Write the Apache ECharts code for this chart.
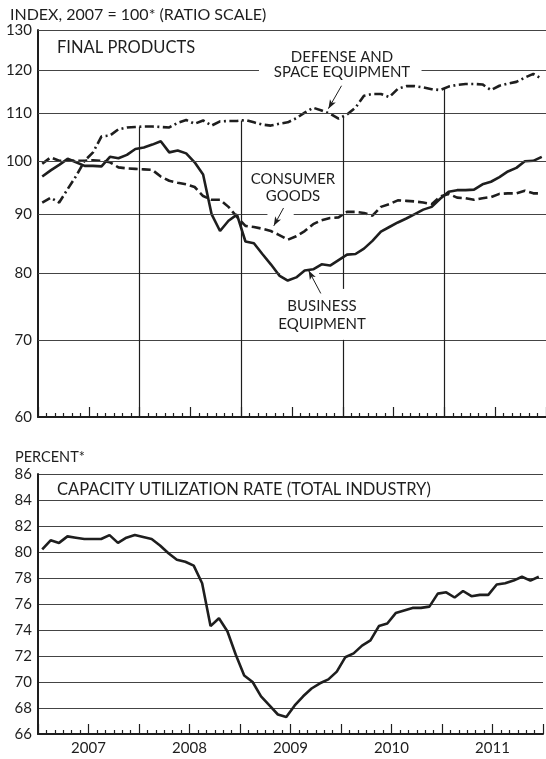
<!DOCTYPE html>
<html>
<head>
<meta charset="utf-8">
<script src="https://cdn.jsdelivr.net/npm/echarts@6/dist/echarts.min.js"></script>
<style>
  html, body { margin: 0; padding: 0; background: #fff; }
  #main { width: 546px; height: 759px; }
</style>
</head>
<body>
<div id="main"></div>
<script>
// monthly data, Jan 2007 .. Dec 2011
var years = ['2007', '2008', '2009', '2010', '2011'];

var business = [97.0, 98.2, 99.3, 100.5, 99.8, 99.1, 99.1, 99.0, 100.9, 100.6, 101.3, 102.5,
  102.8, 103.4, 104.1, 101.8, 102.2, 101.6, 99.8, 97.4, 90.0, 87.0, 88.8, 89.9,
  85.2, 84.9, 83.1, 81.4, 79.6, 78.8, 79.3, 80.4, 80.6, 81.4, 81.2, 82.1,
  83.0, 83.1, 84.0, 85.3, 86.9, 87.7, 88.5, 89.2, 90.0, 90.8, 91.3, 92.8,
  94.1, 94.4, 94.4, 94.5, 95.5, 96.0, 96.9, 98.0, 98.7, 100.0, 100.1, 100.9];

var consumer = [99.5, 100.8, 100.1, 100.2, 100.1, 100.1, 100.2, 100.1, 99.8, 98.8, 98.6, 98.5,
  98.4, 98.3, 97.0, 96.2, 95.8, 95.5, 95.0, 93.3, 92.6, 92.6, 91.3, 89.5,
  87.9, 87.7, 87.4, 87.0, 86.3, 85.5, 86.1, 87.0, 88.2, 88.9, 89.3, 89.4,
  90.4, 90.4, 90.2, 89.7, 91.3, 91.8, 92.5, 92.4, 92.3, 92.1, 91.8, 93.2,
  93.7, 93.0, 92.9, 92.6, 92.9, 93.1, 93.7, 93.8, 93.8, 94.3, 93.8, 93.8];

var defense = [92.1, 93.0, 92.1, 94.6, 97.1, 100.1, 101.8, 105.1, 105.3, 106.6, 107.0, 107.1,
  107.2, 107.2, 107.1, 107.0, 108.0, 108.6, 107.8, 108.5, 107.4, 108.3, 108.4, 108.4,
  108.6, 108.1, 107.6, 107.4, 107.8, 108.1, 109.0, 110.2, 111.3, 110.7, 110.0, 108.9,
  109.8, 111.3, 114.0, 114.4, 114.4, 113.7, 115.6, 116.2, 116.2, 115.9, 115.5, 115.3,
  116.1, 116.5, 116.7, 116.7, 116.6, 115.3, 116.3, 116.8, 117.2, 118.2, 119.1, 117.9];

var capacity = [80.2, 80.9, 80.7, 81.2, 81.1, 81.0, 81.0, 81.0, 81.3, 80.7, 81.1, 81.3,
  81.15, 81.0, 80.5, 79.9, 79.4, 79.25, 78.95, 77.6, 74.3, 74.9, 73.9, 72.1,
  70.5, 70.0, 68.9, 68.2, 67.5, 67.3, 68.2, 68.9, 69.5, 69.9, 70.2, 70.8,
  71.9, 72.2, 72.8, 73.2, 74.3, 74.5, 75.3, 75.5, 75.7, 75.7, 75.8, 76.8,
  76.9, 76.5, 77.0, 76.6, 76.7, 76.7, 77.5, 77.6, 77.8, 78.1, 77.8, 78.1];

var indexTicks = [60, 70, 80, 90, 100, 110, 120, 130];
// gaps (in months) left open in the index gridlines for the annotations
var gridGaps = { 120: [26.1, 45.3], 90: [27.1, 30.2], 80: [28.6, 33.2] };

var FONT = 'Lato, "Noto Sans", sans-serif';
var INK = '#1e1e1e';
var GRID = '#444';

function pts(arr) {
  return arr.map(function (v, i) { return [i + 0.5, v]; });
}
function atBoundary(arr, m) {
  return (arr[m - 1] + arr[m]) / 2;
}

// index gridlines + tick labels
var topMarks = [];
indexTicks.forEach(function (v) {
  var lab = { show: true, position: 'start', formatter: String(v), distance: 6,
    fontSize: 15, color: INK, fontFamily: FONT };
  var ls = { color: v === 60 ? INK : GRID, width: v === 60 ? 0 : 1.2, type: 'solid' };
  if (gridGaps[v]) {
    topMarks.push([{ coord: [0, v], lineStyle: ls, label: lab }, { coord: [gridGaps[v][0], v] }]);
    topMarks.push([{ coord: [gridGaps[v][1], v], lineStyle: ls, label: { show: false } }, { coord: [60, v] }]);
  } else {
    topMarks.push([{ coord: [0, v], lineStyle: ls, label: lab }, { coord: [60, v] }]);
  }
});
// year dividers, dropping from the defense line
[12, 24, 36, 48].forEach(function (m) {
  var ls = { color: INK, width: 1.2, type: 'solid' };
  var top = atBoundary(defense, m);
  if (m === 36) {
    topMarks.push([{ coord: [m, top], lineStyle: ls }, { coord: [m, 77.5] }]);
    topMarks.push([{ coord: [m, 70], lineStyle: ls }, { coord: [m, 60] }]);
  } else {
    topMarks.push([{ coord: [m, top], lineStyle: ls }, { coord: [m, 60] }]);
  }
});
// annotation arrows
var arrows = [
  [[35.85, 116.3], [34.3, 111.1]],
  [[29.0, 91.1], [27.85, 87.9]],
  [[33.4, 76.8], [31.96, 80.4]]
];
arrows.forEach(function (a) {
  topMarks.push([
    { coord: a[0], symbol: 'none', lineStyle: { color: INK, width: 1, type: 'solid' } },
    { coord: a[1], symbol: 'arrow', symbolSize: [5, 9] }
  ]);
});

var bottomMarks = [12, 24, 36, 48].map(function (m) {
  return [{ coord: [m, atBoundary(capacity, m)], lineStyle: { color: INK, width: 1.2, type: 'solid' } },
    { coord: [m, 64.0] }];
});

function monthAxis(gi, labels) {
  return {
    type: 'value', gridIndex: gi, min: 0, max: 60, interval: 6,
    axisLine: { show: true, onZero: false, lineStyle: { color: INK, width: 2 } },
    axisTick: { show: true, inside: true, length: 10, lineStyle: { color: INK, width: 1.2 } },
    minorTick: { show: true, splitNumber: 6, length: 4, lineStyle: { color: INK, width: 1.2 } },
    splitLine: { show: false },
    axisLabel: labels ? {
      show: true, margin: 7, fontSize: 15, color: INK, fontFamily: FONT,
      formatter: function (v) { return v % 12 === 6 ? years[(v - 6) / 12] : ''; }
    } : { show: false }
  };
}

function text(x, y, str, size, align) {
  return { type: 'text', x: x, y: y, silent: true,
    style: { text: str, font: size + 'px ' + FONT, fill: INK, align: align || 'left', verticalAlign: 'middle' } };
}

var chart = echarts.init(document.getElementById('main'), null, { renderer: 'canvas' });
chart.setOption({
  backgroundColor: '#fff',
  animation: false,
  textStyle: { fontFamily: FONT },
  grid: [
    { left: 38, top: 30, width: 510, height: 387 },
    { left: 38, top: 474, width: 510, height: 260 }
  ],
  xAxis: [monthAxis(0, false), monthAxis(1, true)],
  yAxis: [
    { type: 'log', gridIndex: 0, logBase: 10, min: 60, max: 130,
      axisLine: { show: true, lineStyle: { color: INK, width: 2 } },
      axisTick: { show: false }, axisLabel: { show: false }, splitLine: { show: false } },
    { type: 'value', gridIndex: 1, min: 66, max: 86, interval: 2,
      axisLine: { show: true, lineStyle: { color: INK, width: 2 } },
      axisTick: { show: false },
      axisLabel: { margin: 6, fontSize: 15, color: INK, fontFamily: FONT },
      splitLine: { show: true, lineStyle: { color: GRID, width: 1.2 } } }
  ],
  graphic: [
    text(10, 15, 'INDEX, 2007 = 100* (RATIO SCALE)', 16),
    text(57, 48, 'FINAL PRODUCTS', 16.5),
    text(342, 57, 'DEFENSE AND', 15, 'center'),
    text(342, 72, 'SPACE EQUIPMENT', 15, 'center'),
    text(293, 179, 'CONSUMER', 15, 'center'),
    text(293, 196, 'GOODS', 15, 'center'),
    text(322, 306, 'BUSINESS', 15, 'center'),
    text(322, 324, 'EQUIPMENT', 15, 'center'),
    text(15, 457, 'PERCENT*', 14.5),
    text(57, 490, 'CAPACITY UTILIZATION RATE (TOTAL INDUSTRY)', 16.5)
  ],
  series: [
    { type: 'line', xAxisIndex: 0, yAxisIndex: 0, data: [], z: 1, silent: true,
      markLine: { silent: true, symbol: 'none', animation: false, label: { show: false }, data: topMarks } },
    { type: 'line', xAxisIndex: 1, yAxisIndex: 1, data: [], z: 1, silent: true, clip: false,
      markLine: { silent: true, symbol: 'none', animation: false, label: { show: false }, data: bottomMarks } },
    { name: 'Business equipment', type: 'line', xAxisIndex: 0, yAxisIndex: 0, z: 3,
      data: pts(business), showSymbol: false, lineStyle: { color: INK, width: 2.6, type: 'solid' } },
    { name: 'Consumer goods', type: 'line', xAxisIndex: 0, yAxisIndex: 0, z: 3,
      data: pts(consumer), showSymbol: false, lineStyle: { color: INK, width: 2.6, type: [9, 4] } },
    { name: 'Defense and space equipment', type: 'line', xAxisIndex: 0, yAxisIndex: 0, z: 3,
      data: pts(defense), showSymbol: false, lineStyle: { color: INK, width: 2.6, type: [9, 3.5, 2, 3.5] } },
    { name: 'Capacity utilization', type: 'line', xAxisIndex: 1, yAxisIndex: 1, z: 3,
      data: pts(capacity), showSymbol: false, lineStyle: { color: INK, width: 2.6, type: 'solid' } }
  ]
});
</script>
</body>
</html>
